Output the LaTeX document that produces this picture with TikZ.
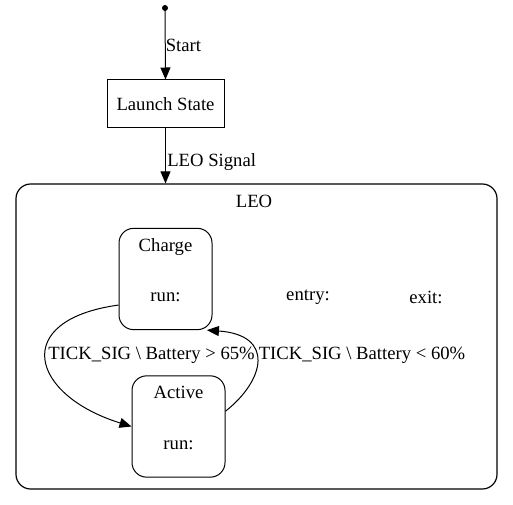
\documentclass[tikz,border=0pt]{standalone}
\usepackage{fontspec}
\setmainfont{Liberation Serif}
\usepackage{tikz}
\usetikzlibrary{shapes, arrows.meta, positioning}
\tikzstyle{estado} = [draw, rectangle, rounded corners=11pt, line width=0.75pt, minimum width=69.75pt, minimum height=76pt]
\tikzstyle{lanzar} = [draw, rectangle, line width=0.75pt, minimum width=87.75pt, minimum height=36pt]
\tikzstyle{grupo} = [draw, rectangle, rounded corners=11pt, line width=0.9pt, minimum width=360.75pt, minimum height=228.75pt]
\tikzstyle{flecha} = [-{Triangle[length=9pt, width=7.5pt]}, line width=0.75pt]
\tikzstyle{etiqueta} = [inner sep=0pt]

\begin{document}
\begin{tikzpicture}[x=0.75pt, y=-0.75pt, font=\fontsize{14}{17}\selectfont]
	\useasboundingbox (0,0) rectangle (513,505);
	% inicio y lanzamiento
	\fill (165,8) circle (2.25pt) coordinate (inicio);
	\node [lanzar] (launch) at (165.5,104) {Launch State};
	\draw [flecha] (inicio) -- (launch.north) node[etiqueta, pos=0.52, right=0pt] {Start};
	% cluster LEO
	\node [grupo] (leo) at (256.5,336.5) {};
	\node [etiqueta] (leotitulo) at (254,201) {LEO};
	\draw [flecha] (launch.south) -- (launch.south |- leo.north) node[etiqueta, pos=0.62, right=1pt] {LEO Signal};
	\node [etiqueta] (entry) at (308,297) {entry:};
	\node [etiqueta] (exit) at (426,297) {exit:};
	% estados
	\node [estado] (charge) at (165.5,279) {};
	\node [etiqueta, below=8pt] (chargenombre) at (charge.north) {Charge};
	\node [etiqueta] (chargerun) at (165.5,297) {run:};
	\node [estado] (active) at (178.5,426.5) {};
	\node [etiqueta, below=8pt] (activenombre) at (active.north) {Active};
	\node [etiqueta] (activerun) at (178.5,445) {run:};
	% transiciones
	\draw [flecha] (charge.209) .. controls (10,320) and (30,395) .. (active.west);
	\node [etiqueta] (t1) at (151.5,355) {TICK\_SIG \textbackslash{} Battery > 65\%};
	\draw [flecha] (active.18) .. controls (265,380) and (275,335) .. (charge.-51);
	\node [etiqueta] (t2) at (362,355) {TICK\_SIG \textbackslash{} Battery < 60\%};
\end{tikzpicture}
\end{document}
